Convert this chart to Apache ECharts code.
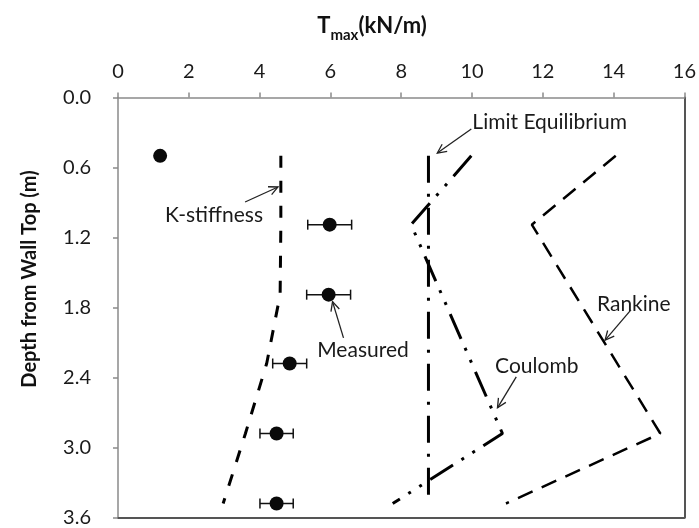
<!DOCTYPE html>
<html>
<head>
<meta charset="utf-8">
<script src="https://cdn.jsdelivr.net/npm/echarts@6/dist/echarts.min.js"></script>
<style>html,body{margin:0;padding:0;background:#fff;}#c{width:699px;height:528px;}</style>
</head>
<body>
<div id="c"></div>
<script>
// ---- data ----
const xTicks = [0, 2, 4, 6, 8, 10, 12, 14, 16];
const yTicks = [0.0, 0.6, 1.2, 1.8, 2.4, 3.0, 3.6];
const depths = [0.5, 1.09, 1.69, 2.28, 2.88, 3.48];
const measured = [1.19, 5.98, 5.95, 4.85, 4.48, 4.48];
const measuredErr = [0, 0.62, 0.62, 0.48, 0.47, 0.47];
const kStiffness = [4.6, 4.6, 4.58, 4.2, 3.6, 2.97];
const limitDepths = [0.5, 3.48];
const limitEq = [8.77, 8.77];
const bendDepths = [0.5, 1.09, 2.88, 3.48];
const coulomb = [9.98, 8.28, 10.86, 7.76];
const rankine = [14.06, 11.69, 15.32, 10.96];
// annotation labels: [text, textX, textY, align, arrowFromX, arrowFromY, arrowToX, arrowToY]
const annotations = [
  ['Limit Equilibrium', 10.01, 0.21, 'left', 9.98, 0.27, 9.02, 0.476],
  ['K-stiffness', 2.71, 1.007, 'center', 3.59, 0.896, 4.52, 0.767],
  ['Measured', 6.92, 2.164, 'center', 6.37, 2.06, 6.06, 1.75],
  ['Coulomb', 11.83, 2.30, 'center', 11.25, 2.395, 10.72, 2.66],
  ['Rankine', 14.57, 1.77, 'center', 14.49, 1.82, 13.76, 2.08]
];

const pair = (xs, ys) => xs.map((v, i) => [v, ys[i]]);
const FONT = 'Lato, "Open Sans", sans-serif';
const ink = '#000';

const chart = echarts.init(document.getElementById('c'), null, {renderer: 'canvas'});
const option = {
  backgroundColor: '#fff',
  animation: false,
  grid: {left: 118, top: 97.5, right: 13, bottom: 10.5, containLabel: false},
  xAxis: [{
    type: 'value', position: 'top', min: xTicks[0], max: xTicks[xTicks.length - 1], interval: 2,
    axisLine: {show: true, lineStyle: {color: '#8a8a8a', width: 1.5}},
    axisTick: {show: true, length: 5, lineStyle: {color: '#8a8a8a', width: 1.5}},
    axisLabel: {fontFamily: FONT, fontSize: 20, color: '#1a1a1a', margin: 16},
    splitLine: {show: false}
  }, {
    type: 'value', position: 'bottom', min: 0, max: 16,
    axisLine: {show: true, onZero: false, lineStyle: {color: '#555', width: 2}},
    axisTick: {show: false}, axisLabel: {show: false}, splitLine: {show: false}
  }],
  yAxis: [{
    type: 'value', inverse: true, min: yTicks[0], max: yTicks[yTicks.length - 1], interval: 0.6,
    axisLine: {show: true, onZero: false, lineStyle: {color: '#8a8a8a', width: 1.5}},
    axisTick: {show: true, length: 5, lineStyle: {color: '#8a8a8a', width: 1.5}},
    axisLabel: {fontFamily: FONT, fontSize: 20, color: '#1a1a1a', margin: 27, formatter: v => v.toFixed(1)},
    splitLine: {show: false}
  }, {
    type: 'value', inverse: true, position: 'right', min: 0, max: 3.6,
    axisLine: {show: true, onZero: false, lineStyle: {color: '#555', width: 2}},
    axisTick: {show: false}, axisLabel: {show: false}, splitLine: {show: false}
  }],
  series: [
    {
      name: 'K-stiffness', type: 'line', data: pair(kStiffness, depths), symbol: 'none',
      lineStyle: {color: ink, width: 3, type: [12, 13]}
    },
    {
      name: 'Limit Equilibrium', type: 'line', data: pair(limitEq, limitDepths), symbol: 'none',
      lineStyle: {color: ink, width: 3, type: [27, 11, 3, 11]}
    },
    {
      name: 'Coulomb', type: 'line', data: pair(coulomb, bendDepths), symbol: 'none',
      lineStyle: {color: ink, width: 3, type: [27, 10, 3, 10, 3, 10]}
    },
    {
      name: 'Rankine', type: 'line', data: pair(rankine, bendDepths), symbol: 'none',
      lineStyle: {color: ink, width: 2.5, type: [16, 10]}
    },
    {
      name: 'err', type: 'custom',
      data: measured.map((v, i) => [v, depths[i], measuredErr[i]]),
      renderItem: function (params, api) {
        const x = api.value(0), y = api.value(1), e = api.value(2);
        if (!e) return null;
        const p1 = api.coord([x - e, y]);
        const p2 = api.coord([x + e, y]);
        const st = {stroke: '#111', lineWidth: 1.5};
        return {type: 'group', children: [
          {type: 'line', shape: {x1: p1[0], y1: p1[1], x2: p2[0], y2: p2[1]}, style: st},
          {type: 'line', shape: {x1: p1[0], y1: p1[1] - 5, x2: p1[0], y2: p1[1] + 5}, style: st},
          {type: 'line', shape: {x1: p2[0], y1: p2[1] - 5, x2: p2[0], y2: p2[1] + 5}, style: st}
        ]};
      },
      z: 3
    },
    {
      name: 'Measured', type: 'scatter', data: pair(measured, depths),
      symbol: 'circle', symbolSize: 14, itemStyle: {color: '#0a0a0a', opacity: 1}, z: 4
    }
  ]
};
chart.setOption(option);

// annotations positioned through the axes
const graphics = [];
annotations.forEach(a => {
  const t = chart.convertToPixel({xAxisIndex: 0, yAxisIndex: 0}, [a[1], a[2]]);
  const f = chart.convertToPixel({xAxisIndex: 0, yAxisIndex: 0}, [a[4], a[5]]);
  const to = chart.convertToPixel({xAxisIndex: 0, yAxisIndex: 0}, [a[6], a[7]]);
  graphics.push({type: 'text', x: t[0], y: t[1], style: {text: a[0], font: '21px ' + FONT, fill: '#1a1a1a', align: a[3], verticalAlign: 'middle'}});
  graphics.push({type: 'line', shape: {x1: f[0], y1: f[1], x2: to[0], y2: to[1]}, style: {stroke: '#222', lineWidth: 1.3}});
  const ang = Math.atan2(to[1] - f[1], to[0] - f[0]);
  const L = 10, w = 0.45;
  graphics.push({type: 'polyline', shape: {points: [
    [to[0] - L * Math.cos(ang - w), to[1] - L * Math.sin(ang - w)],
    [to[0], to[1]],
    [to[0] - L * Math.cos(ang + w), to[1] - L * Math.sin(ang + w)]
  ]}, style: {stroke: '#222', lineWidth: 1.3, fill: null}});
});
// top axis title with subscript
const ctx = document.createElement('canvas').getContext('2d');
const bigFont = 'bold 22px ' + FONT, subFont = 'bold 15px ' + FONT;
ctx.font = bigFont; const wT = ctx.measureText('T').width; const wU = ctx.measureText('(kN/m)').width;
ctx.font = subFont; const wS = ctx.measureText('max').width;
const total = wT + wS + wU;
const tx = 372 - total / 2;
graphics.push({type: 'text', x: tx, y: 26, style: {text: 'T', font: bigFont, fill: '#111', align: 'left', verticalAlign: 'middle'}});
graphics.push({type: 'text', x: tx + wT, y: 35, style: {text: 'max', font: subFont, fill: '#111', align: 'left', verticalAlign: 'middle'}});
graphics.push({type: 'text', x: tx + wT + wS, y: 26, style: {text: '(kN/m)', font: bigFont, fill: '#111', align: 'left', verticalAlign: 'middle'}});
graphics.push({type: 'text', x: 30, y: 279, rotation: Math.PI / 2, style: {
  text: 'Depth from Wall Top (m)', font: 'bold 20px ' + FONT, fill: '#111', align: 'center', verticalAlign: 'middle'
}});
chart.setOption({graphic: graphics});
</script>
</body>
</html>
